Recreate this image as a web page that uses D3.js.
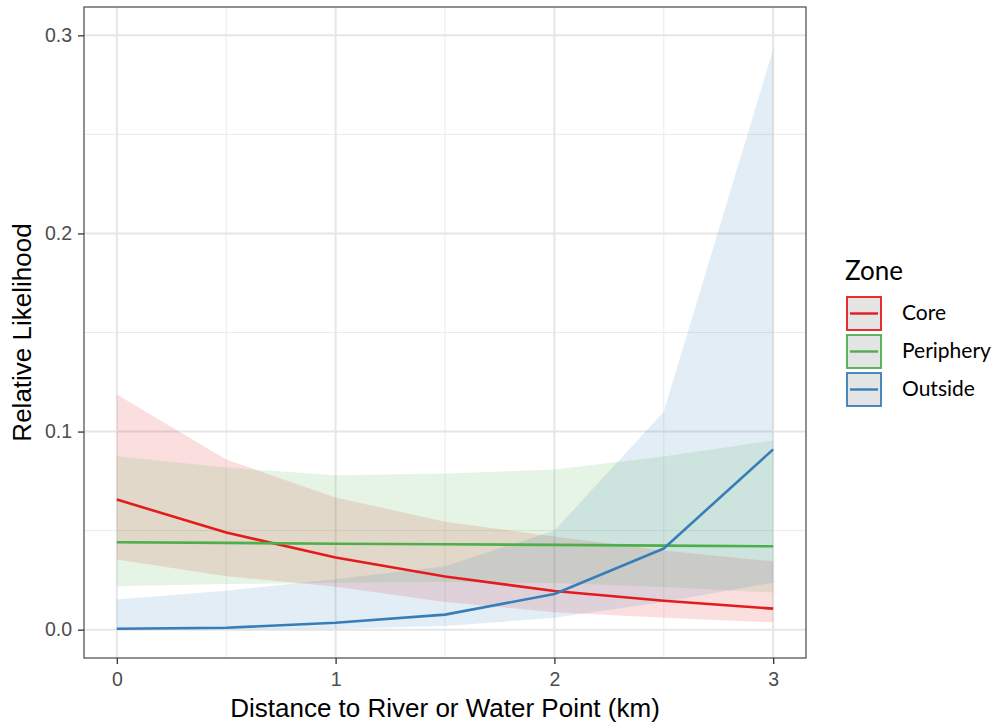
<!DOCTYPE html>
<html>
<head>
<meta charset="utf-8">
<script src="https://cdn.jsdelivr.net/npm/d3@7"></script>
<style>
  body { margin: 0; background: #fff; }
  svg { display: block; }
</style>
</head>
<body>
<svg id="chart" width="998" height="727"></svg>
<script>
// Predicted relative likelihood by distance to water, per zone (estimate + 95% band)
const distances = [0, 0.5, 1, 1.5, 2, 2.5, 3];
const zones = ["Core", "Periphery", "Outside"];
const zoneColors = ["#E41A1C", "#4DAF4A", "#377EB8"];

const coreFit   = [0.0657, 0.0490, 0.0364, 0.0268, 0.0195, 0.0146, 0.0106];
const coreLow   = [0.0354, 0.0270, 0.0217, 0.0140, 0.0088, 0.0060, 0.0037];
const coreHigh  = [0.1187, 0.0859, 0.0667, 0.0545, 0.0470, 0.0400, 0.0345];

const periFit   = [0.0441, 0.0438, 0.0434, 0.0431, 0.0428, 0.0424, 0.0421];
const periLow   = [0.0219, 0.0230, 0.0237, 0.0240, 0.0235, 0.0215, 0.0187];
const periHigh  = [0.0875, 0.0818, 0.0780, 0.0788, 0.0808, 0.0874, 0.0955];

const outFit    = [0.0005, 0.0010, 0.0035, 0.0076, 0.0180, 0.0410, 0.0910];
const outLow    = [0.0000, 0.0001, 0.0005, 0.0018, 0.0060, 0.0140, 0.0237];
const outHigh   = [0.0152, 0.0197, 0.0255, 0.0320, 0.0500, 0.1100, 0.2930];

const xTicks = [0, 1, 2, 3];
const yTicks = [0.0, 0.1, 0.2, 0.3];

const seriesFit  = [coreFit, periFit, outFit];
const seriesLow  = [coreLow, periLow, outLow];
const seriesHigh = [coreHigh, periHigh, outHigh];

const svg = d3.select("#chart");
const panel = { left: 84, top: 7, right: 806, bottom: 658 };

const x = d3.scaleLinear().domain([-0.15, 3.15]).range([panel.left, panel.right]);
const y = d3.scaleLinear().domain([-0.0143, 0.3143]).range([panel.bottom, panel.top]);

// panel background
svg.append("rect")
  .attr("x", panel.left).attr("y", panel.top)
  .attr("width", panel.right - panel.left).attr("height", panel.bottom - panel.top)
  .attr("fill", "#fff");

const grid = svg.append("g");
// minor grid
[0.5, 1.5, 2.5].forEach(v => grid.append("line")
  .attr("x1", x(v)).attr("x2", x(v)).attr("y1", panel.top).attr("y2", panel.bottom)
  .attr("stroke", "#ebebeb").attr("stroke-width", 1));
[0.05, 0.15, 0.25].forEach(v => grid.append("line")
  .attr("y1", y(v)).attr("y2", y(v)).attr("x1", panel.left).attr("x2", panel.right)
  .attr("stroke", "#ebebeb").attr("stroke-width", 1));
// major grid
xTicks.forEach(v => grid.append("line")
  .attr("x1", x(v)).attr("x2", x(v)).attr("y1", panel.top).attr("y2", panel.bottom)
  .attr("stroke", "#e6e6e6").attr("stroke-width", 2));
yTicks.forEach(v => grid.append("line")
  .attr("y1", y(v)).attr("y2", y(v)).attr("x1", panel.left).attr("x2", panel.right)
  .attr("stroke", "#e6e6e6").attr("stroke-width", 2));

// confidence ribbons
const area = d3.area()
  .x((d, i) => x(distances[i]))
  .y0(d => y(d[0]))
  .y1(d => y(d[1]));

zones.forEach((z, k) => {
  const band = distances.map((_, i) => [seriesLow[k][i], seriesHigh[k][i]]);
  svg.append("path")
    .datum(band)
    .attr("d", area)
    .attr("fill", zoneColors[k])
    .attr("fill-opacity", 0.14);
});

// fitted lines
const line = d3.line()
  .x((d, i) => x(distances[i]))
  .y(d => y(d));

zones.forEach((z, k) => {
  svg.append("path")
    .datum(seriesFit[k])
    .attr("d", line)
    .attr("fill", "none")
    .attr("stroke", zoneColors[k])
    .attr("stroke-width", 2.6)
    .attr("stroke-linejoin", "round");
});

// panel border
svg.append("rect")
  .attr("x", panel.left).attr("y", panel.top)
  .attr("width", panel.right - panel.left).attr("height", panel.bottom - panel.top)
  .attr("fill", "none").attr("stroke", "#555").attr("stroke-width", 1.3);

// axes
const xAxis = svg.append("g")
  .attr("transform", `translate(0,${panel.bottom})`)
  .call(d3.axisBottom(x).tickValues(xTicks).tickFormat(d3.format("d")).tickSize(6).tickPadding(8));
const yAxis = svg.append("g")
  .attr("transform", `translate(${panel.left},0)`)
  .call(d3.axisLeft(y).tickValues(yTicks).tickFormat(d3.format(".1f")).tickSize(6).tickPadding(6));

[xAxis, yAxis].forEach(a => {
  a.select(".domain").remove();
  a.selectAll(".tick line").attr("stroke", "#333").attr("stroke-width", 1.3);
  a.selectAll(".tick text")
    .attr("fill", "#4d4d4d")
    .style("font-family", "'Liberation Sans', Arial, sans-serif")
    .style("font-size", "19.5px");
});

// axis titles
svg.append("text")
  .attr("x", (panel.left + panel.right) / 2).attr("y", 717)
  .attr("text-anchor", "middle")
  .style("font-family", "'Liberation Sans', Arial, sans-serif")
  .style("font-size", "26px").attr("fill", "#000")
  .text("Distance to River or Water Point (km)");

svg.append("text")
  .attr("transform", `translate(31,${(panel.top + panel.bottom) / 2}) rotate(-90)`)
  .attr("text-anchor", "middle")
  .style("font-family", "'Liberation Sans', Arial, sans-serif")
  .style("font-size", "26px").attr("fill", "#000")
  .text("Relative Likelihood");

// legend
const legend = svg.append("g").attr("transform", "translate(845,0)");
legend.append("text")
  .attr("x", 0).attr("y", 280)
  .style("font-family", "Lato, 'Open Sans', sans-serif")
  .style("font-size", "26px").attr("fill", "#000")
  .text("Zone");

zones.forEach((z, k) => {
  const gy = 297 + k * 38;
  const g = legend.append("g").attr("transform", `translate(2,${gy})`);
  g.append("rect")
    .attr("x", 0).attr("y", 0).attr("width", 34).attr("height", 33)
    .attr("fill", "#e4e4e4")
    .attr("stroke", zoneColors[k]).attr("stroke-width", 1.8);
  g.append("line")
    .attr("x1", 3).attr("x2", 31).attr("y1", 16.5).attr("y2", 16.5)
    .attr("stroke", zoneColors[k]).attr("stroke-width", 2.4);
  g.append("text")
    .attr("x", 55).attr("y", 23)
    .style("font-family", "Lato, 'Open Sans', sans-serif")
    .style("font-size", "21px").attr("fill", "#000")
    .text(z);
});
</script>
</body>
</html>
